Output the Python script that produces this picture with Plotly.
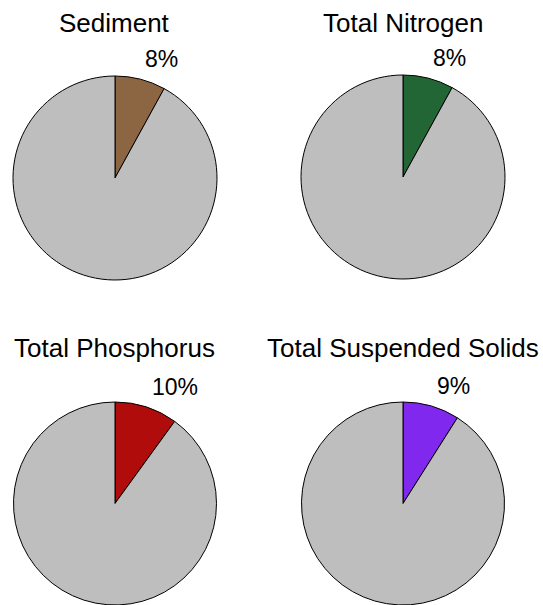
import math
import plotly.graph_objects as go

# Share of each pollutant load (percent) attributed to the highlighted source
pollutants = ["Sediment", "Total Nitrogen", "Total Phosphorus", "Total Suspended Solids"]
shares = [8, 8, 10, 9]
slice_colors = ["#8C6542", "#236636", "#B00C0C", "#8028EE"]
rest_color = "#BEBEBE"

W, H = 543, 605

# pixel boxes (x0, x1, y0_top, y1_bottom) for each pie
boxes = [
    (13, 217, 76, 280),
    (301, 505, 75, 279),
    (13, 217, 402, 605),
    (301, 505, 402, 605),
]
title_y = [23, 23, 348, 348]

fig = go.Figure()
annotations = []
for name, share, color, (x0, x1, y0, y1), ty in zip(pollutants, shares, slice_colors, boxes, title_y):
    fig.add_trace(go.Pie(
        values=[share, 100 - share],
        labels=[name, "Other"],
        marker=dict(colors=[color, rest_color], line=dict(color="black", width=1)),
        sort=False,
        direction="clockwise",
        rotation=0,
        textinfo="none",
        hoverinfo="skip",
        showlegend=False,
        domain=dict(x=[x0 / W, x1 / W], y=[1 - y1 / H, 1 - y0 / H]),
    ))
    cx = (x0 + x1) / 2
    r = min(x1 - x0, y1 - y0) / 2
    cy = y1 - r if y1 >= H else (y0 + y1) / 2
    # title above each pie
    annotations.append(dict(
        x=cx / W, y=1 - ty / H, xref="paper", yref="paper",
        text=name, showarrow=False, xanchor="center", yanchor="middle",
        font=dict(family="Liberation Sans, Arial, sans-serif", size=26, color="black"),
    ))
    # percentage label just outside the slice, at its mid-angle
    mid = math.radians(share / 100 * 360 / 2)
    lx = cx + 1.12 * r * math.sin(mid)
    ly = cy - 1.12 * r * math.cos(mid) + 7
    annotations.append(dict(
        x=lx / W, y=1 - ly / H, xref="paper", yref="paper",
        text=f"{share}%", showarrow=False, xanchor="left", yanchor="bottom",
        font=dict(family="Liberation Sans, Arial, sans-serif", size=23, color="black"),
    ))

fig.update_layout(
    width=W, height=H,
    margin=dict(l=0, r=0, t=0, b=0),
    paper_bgcolor="white",
    plot_bgcolor="white",
    annotations=annotations,
    hovermode=False,
)

fig.write_html("out.html", config={"displayModeBar": False})
